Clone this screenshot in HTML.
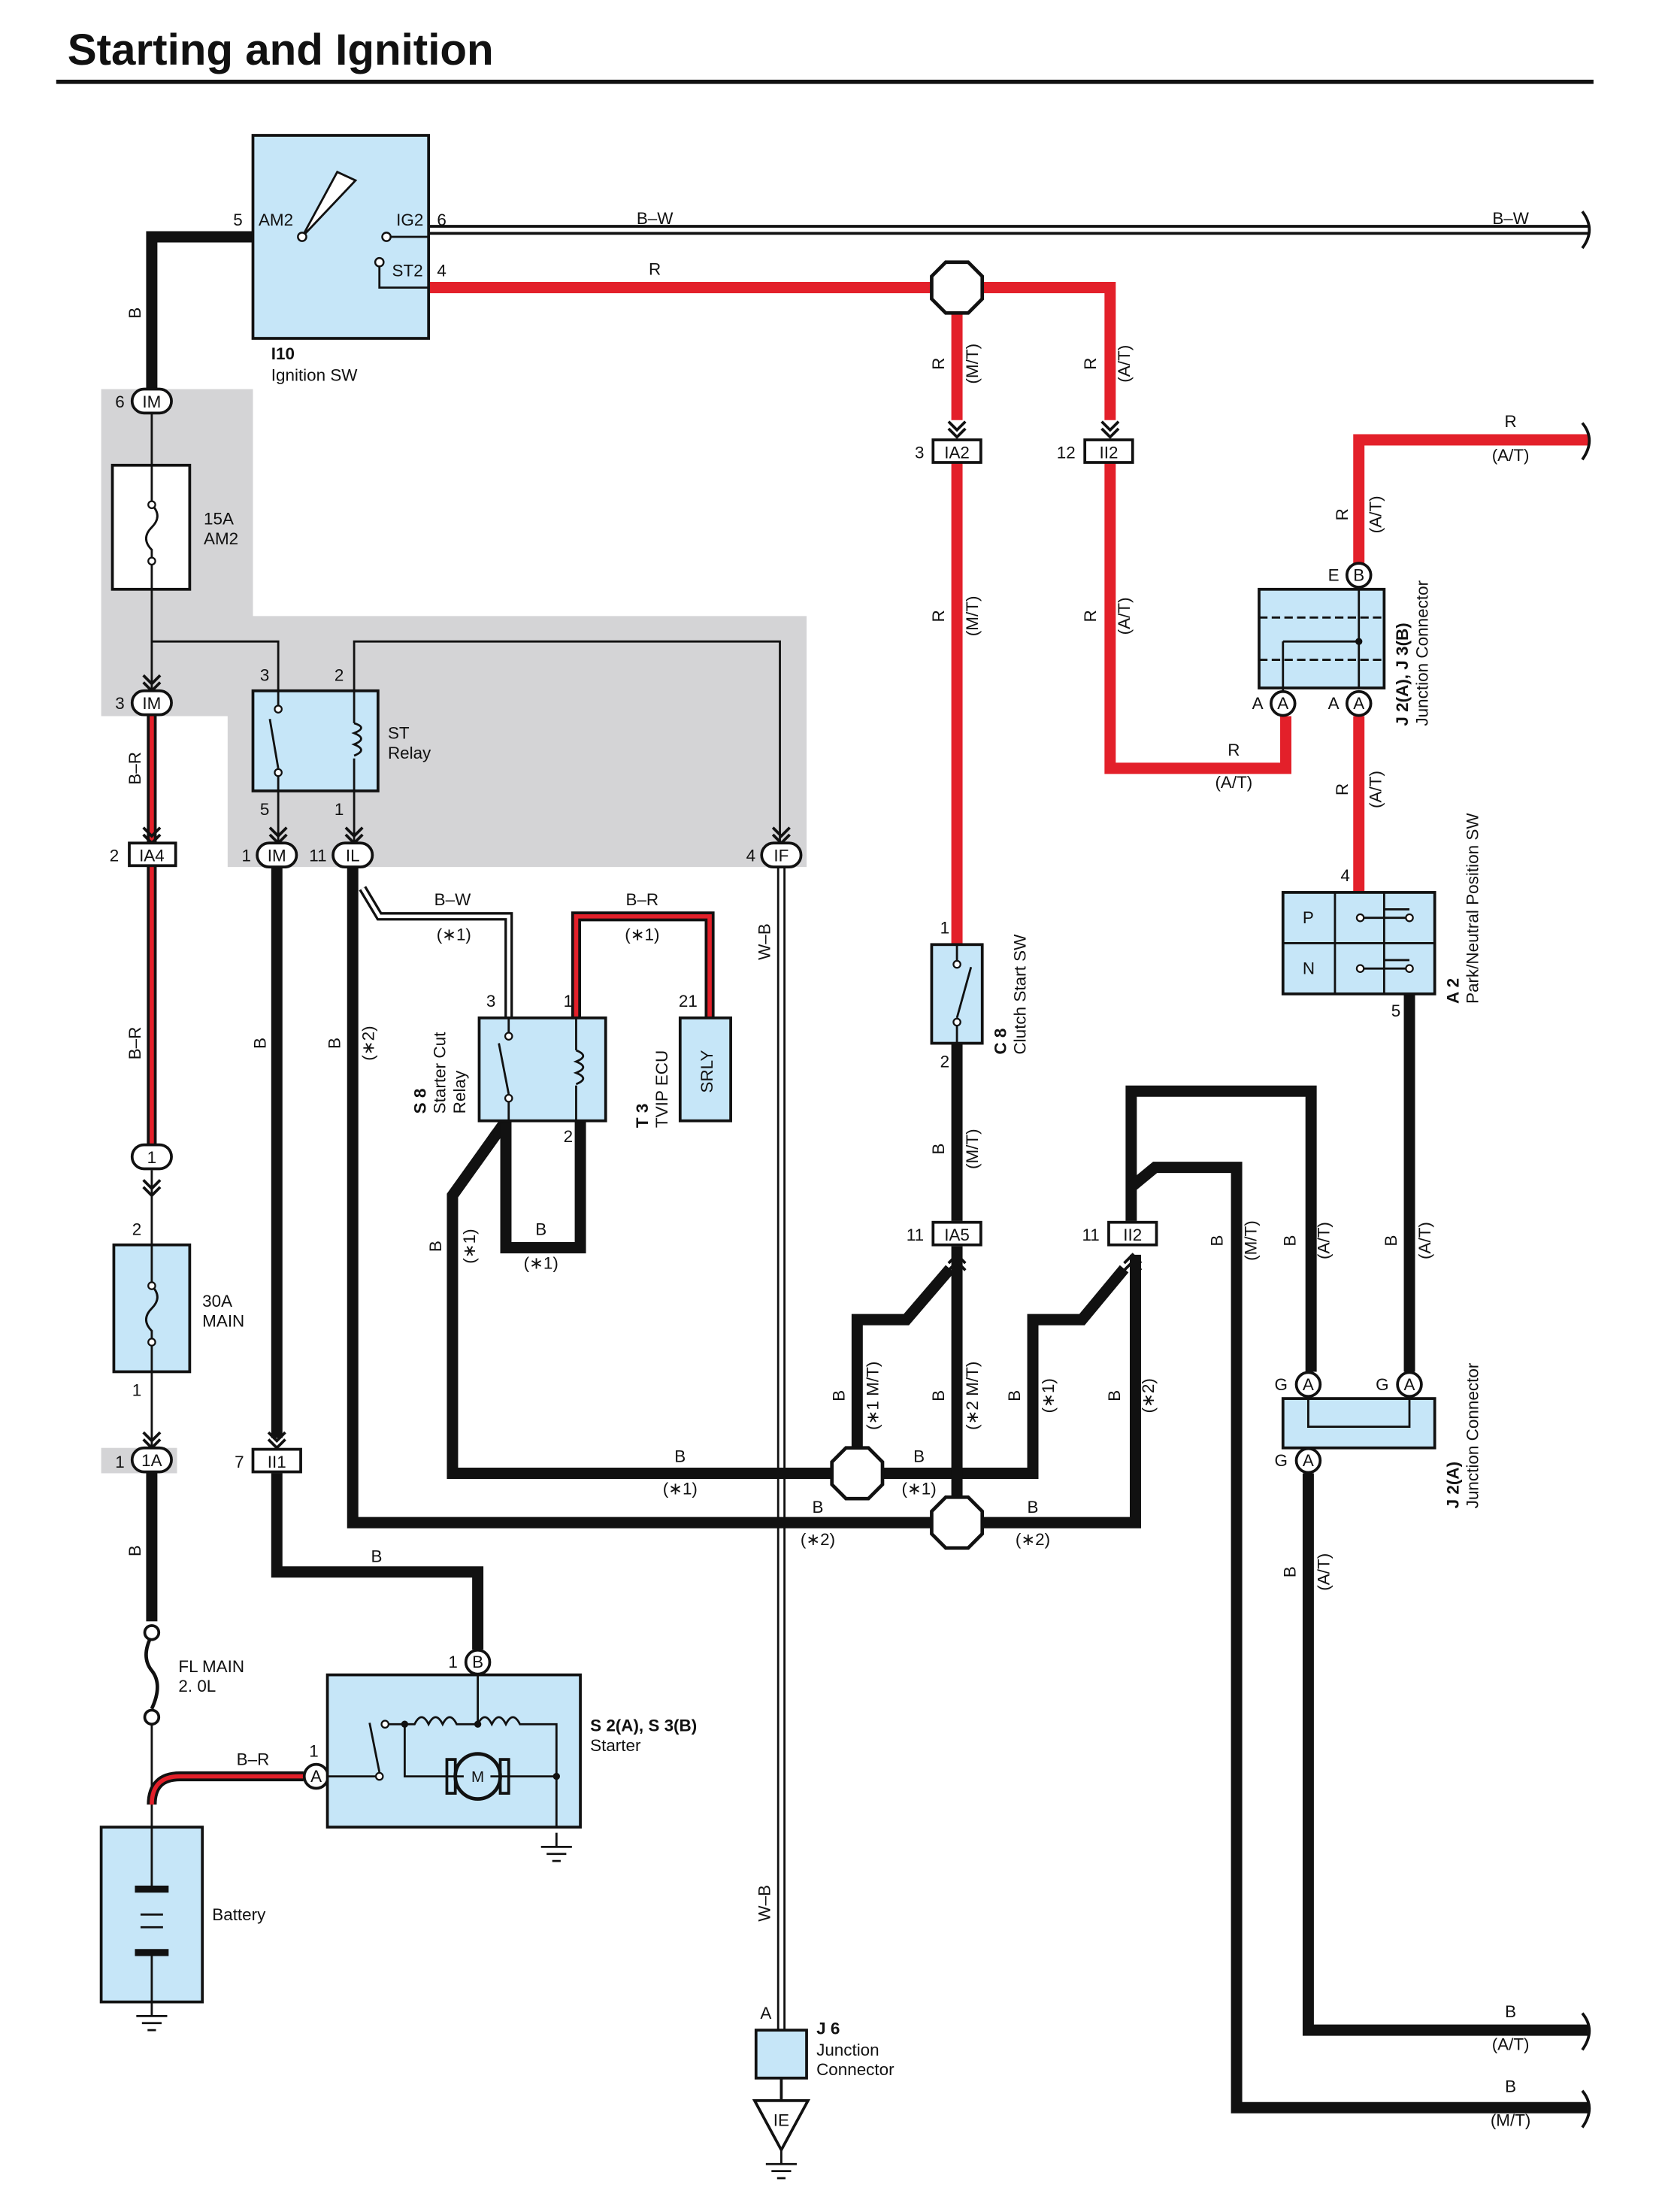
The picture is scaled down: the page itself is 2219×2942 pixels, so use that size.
<!DOCTYPE html>
<html><head><meta charset="utf-8"><style>
html,body{margin:0;padding:0;background:#fff}
svg{display:block}
text{font-family:"Liberation Sans",sans-serif;font-size:12px;fill:#111}
.b{font-weight:bold}
</style></head><body>
<svg width="2219" height="2942" viewBox="0 0 1187 1569" preserveAspectRatio="none" xmlns="http://www.w3.org/2000/svg">
<defs>
<g id="chev"><path d="M-6,-6 L0,0 L6,-6 M-6,-11 L0,-5 L6,-11" fill="none" stroke="#111" stroke-width="2"/></g>
<g id="gnd"><path d="M0,0 V10 M-11,10 H11 M-7,15 H7 M-3,20 H3" stroke="#111" stroke-width="1.5" fill="none"/></g>
</defs>
<rect width="1187" height="1569" fill="#fff"/>
<text x="48" y="46" class="b" style="font-size:31.2px">Starting and Ignition</text>
<line x1="40" y1="58" x2="1134" y2="58" stroke="#111" stroke-width="3"/>

<path d="M72,276 H180 V437 H574 V615 H162 V508 H72 Z" fill="#d4d4d6"/>
<rect x="72" y="1027" width="54" height="18" fill="#d4d4d6"/>

<g stroke="#111" stroke-width="1.5" fill="none">
<path d="M108,293 V330 M108,418 V490 M108,455 H198 V497 M252,490 V455 H555 V598"/>
<path d="M198,561 V598 M252,561 V598"/>
<path d="M108,830 V883 M108,973 V1027"/>
<path d="M108,1222 V1296"/>
</g>
<g fill="none">
<path d="M305,163 H1130" stroke="#111" stroke-width="7"/>
<path d="M305,163 H1130" stroke="#fff" stroke-width="3"/>
<path d="M258,630 L270,650 H362 V722" stroke="#111" stroke-width="6"/>
<path d="M258,630 L270,650 H362 V722" stroke="#fff" stroke-width="2.5"/>
<path d="M556,615 V1440" stroke="#111" stroke-width="6"/>
<path d="M556,615 V1440" stroke="#fff" stroke-width="3"/>
</g>
<g fill="none">
<path d="M108,508 V598 M108,614 V812 M108,1280 Q108,1260 128,1260 H216 M410,722 V650 H505 V722" stroke="#111" stroke-width="7"/>
<path d="M108,508 V598 M108,614 V812 M108,1280 Q108,1260 128,1260 H216 M410,722 V650 H505 V722" stroke="#e3202a" stroke-width="3"/>
</g>
<g stroke="#e3202a" stroke-width="8" fill="none">
<path d="M305,204 H790 V298"/>
<path d="M681,220 V298 M681,328 V670"/>
<path d="M790,328 V545 H915 V508"/>
<path d="M1130,312 H967 V400 M967,508 V633"/>
</g>
<g stroke="#111" stroke-width="8" fill="none" stroke-linejoin="miter">
<path d="M180,168 H108 V276"/>
<path d="M108,1045 V1150"/>
<path d="M197,615 V1020 M197,1045 V1115 H340 V1170"/>
<path d="M251,615 V1080 H808 V890"/>
<path d="M360,795 L322,848 V1045 H735 V936 H770 L800,900"/>
<path d="M610,1045 V936 H645 L676,900"/>
<path d="M360,795 V885 H413 V795"/>
<path d="M681,740 V866 M681,884 V1080"/>
<path d="M805,866 V774 H933 V973"/>
<path d="M805,842 L822,828 H880 V1495 H1130"/>
<path d="M1003,705 V973 M931,1045 V1440 H1130"/>
</g>
<g stroke="#111" stroke-width="2" fill="none">
<path d="M1126,150 Q1136,163 1126,176 M1126,300 Q1136,312 1126,326 M1126,1428 Q1136,1440 1126,1454 M1126,1483 Q1136,1495 1126,1509"/>
</g>
<use href="#chev" x="108" y="490"/><use href="#chev" x="108" y="598"/><use href="#chev" x="198" y="598"/><use href="#chev" x="252" y="598"/><use href="#chev" x="556" y="598"/>
<use href="#chev" x="681" y="310"/><use href="#chev" x="790" y="310"/><use href="#chev" x="108" y="848"/><use href="#chev" x="108" y="1027"/><use href="#chev" x="197" y="1027"/>
<g transform="translate(681,890) rotate(180)"><use href="#chev"/></g>
<g transform="translate(806,890) rotate(180)"><use href="#chev"/></g>

<g fill="#fff" stroke="#111" stroke-width="2.5">
<polygon points="673,186 689,186 699,196 699,212 689,222 673,222 663,212 663,196"/>
<polygon points="602,1027 618,1027 628,1037 628,1053 618,1063 602,1063 592,1053 592,1037"/>
<polygon points="673,1062 689,1062 699,1072 699,1088 689,1098 673,1098 663,1088 663,1072"/>
</g>

<rect x="180" y="96" width="125" height="144" fill="#c6e6f8" stroke="#111" stroke-width="2"/>
<path d="M215,168 L240,122 L253,128 Z" fill="#fff" stroke="#111" stroke-width="1.5"/>
<path d="M275,168 H305 M270,186 V204 H305" stroke="#111" stroke-width="1.5" fill="none"/>
<g fill="#fff" stroke="#111" stroke-width="1.3"><circle cx="215" cy="168" r="3"/><circle cx="275" cy="168" r="3"/><circle cx="270" cy="186" r="3"/></g>
<text x="184" y="160">AM2</text><text x="282" y="160">IG2</text><text x="279" y="196">ST2</text>
<text x="166" y="160">5</text><text x="311" y="160">6</text><text x="311" y="196">4</text>
<text x="193" y="255" class="b">I10</text><text x="193" y="270">Ignition SW</text>

<g fill="#fff" stroke="#111" stroke-width="2">
<rect x="94" y="276" width="28" height="17" rx="8.5"/>
<rect x="94" y="490" width="28" height="17" rx="8.5"/>
<rect x="183" y="598" width="28" height="17" rx="8.5"/>
<rect x="237" y="598" width="28" height="17" rx="8.5"/>
<rect x="542" y="598" width="28" height="17" rx="8.5"/>
<rect x="94" y="812" width="28" height="17" rx="8.5"/>
<rect x="94" y="1027" width="28" height="17" rx="8.5"/>
<rect x="92" y="598" width="33" height="16"/>
<rect x="664" y="312" width="34" height="16"/>
<rect x="772" y="312" width="34" height="16"/>
<rect x="180" y="1028" width="34" height="16"/>
<rect x="664" y="867" width="34" height="16"/>
<rect x="789" y="867" width="34" height="16"/>
</g>
<g text-anchor="middle">
<text x="108" y="289">IM</text><text x="108" y="503">IM</text><text x="197" y="611">IM</text><text x="251" y="611">IL</text><text x="556" y="611">IF</text>
<text x="108" y="825">1</text><text x="108" y="1040">1A</text><text x="108" y="611">IA4</text><text x="681" y="325">IA2</text><text x="789" y="325">II2</text>
<text x="197" y="1041">II1</text><text x="681" y="880">IA5</text><text x="806" y="880">II2</text>
</g>
<text x="82" y="289">6</text><text x="82" y="503">3</text><text x="78" y="611">2</text><text x="172" y="611">1</text><text x="220" y="611">11</text><text x="531" y="611">4</text>
<text x="651" y="325">3</text><text x="752" y="325">12</text><text x="94" y="876">2</text><text x="94" y="990">1</text><text x="82" y="1041">1</text><text x="167" y="1041">7</text>
<text x="645" y="880">11</text><text x="770" y="880">11</text>

<rect x="80" y="330" width="55" height="88" fill="#fff" stroke="#111" stroke-width="2"/>
<rect x="81" y="883" width="54" height="90" fill="#c6e6f8" stroke="#111" stroke-width="2"/>
<g stroke="#111" stroke-width="1.5" fill="none">
<path d="M108,330 V358 Q116,366 108,374 Q100,382 108,390 V418"/>
<path d="M108,883 V912 Q116,920 108,928 Q100,936 108,944 V973"/>
</g>
<g fill="#fff" stroke="#111" stroke-width="1.2"><circle cx="108" cy="358" r="2.5"/><circle cx="108" cy="398" r="2.5"/><circle cx="108" cy="912" r="2.5"/><circle cx="108" cy="952" r="2.5"/></g>
<text x="145" y="372">15A</text><text x="145" y="386">AM2</text>
<text x="144" y="927">30A</text><text x="144" y="941">MAIN</text>

<path d="M108,1160 Q100,1175 108,1185 Q116,1195 108,1212" stroke="#111" stroke-width="2.5" fill="none"/>
<g fill="#fff" stroke="#111" stroke-width="2"><circle cx="108" cy="1158" r="5"/><circle cx="108" cy="1218" r="5"/></g>
<text x="127" y="1186">FL MAIN</text><text x="127" y="1200">2. 0L</text>

<rect x="72" y="1296" width="72" height="124" fill="#c6e6f8" stroke="#111" stroke-width="2"/>
<g stroke="#111"><path d="M108,1296 V1340 M108,1386 V1420" stroke-width="1.5"/>
<path d="M96,1340 H120 M96,1385 H120" stroke-width="5"/><path d="M100,1358 H116 M100,1367 H116" stroke-width="1.5"/></g>
<text x="151" y="1362">Battery</text>
<use href="#gnd" x="108" y="1420"/>

<rect x="180" y="490" width="89" height="71" fill="#c6e6f8" stroke="#111" stroke-width="2"/>
<g stroke="#111" stroke-width="1.5" fill="none">
<path d="M198,490 V502 M198,548 V561 M192,510 L198,545 M252,490 V513 M252,538 V561"/>
<path d="M252,513 Q262,516 252,520 Q262,524 252,528 Q262,532 252,536"/>
</g>
<g fill="#fff" stroke="#111" stroke-width="1.2"><circle cx="198" cy="503" r="2.5"/><circle cx="198" cy="548" r="2.5"/></g>
<text x="185" y="483">3</text><text x="238" y="483">2</text><text x="185" y="578">5</text><text x="238" y="578">1</text>
<text x="276" y="524">ST</text><text x="276" y="538">Relay</text>

<rect x="341" y="722" width="90" height="73" fill="#c6e6f8" stroke="#111" stroke-width="2"/>
<g stroke="#111" stroke-width="1.5" fill="none">
<path d="M362,722 V733 M362,780 V795 M355,740 L362,776 M410,722 V745 M410,770 V795"/>
<path d="M410,745 Q420,749 410,753 Q420,757 410,761 Q420,765 410,769"/>
</g>
<g fill="#fff" stroke="#111" stroke-width="1.2"><circle cx="362" cy="735" r="2.5"/><circle cx="362" cy="779" r="2.5"/></g>
<text x="346" y="714">3</text><text x="401" y="714">1</text><text x="346" y="810">4</text><text x="401" y="810">2</text>
<g transform="translate(303,790) rotate(-90)"><text class="b">S 8</text><text y="14">Starter Cut</text><text y="28">Relay</text></g>

<rect x="484" y="722" width="36" height="73" fill="#c6e6f8" stroke="#111" stroke-width="2"/>
<text transform="translate(507,760) rotate(-90)" text-anchor="middle">SRLY</text>
<text x="483" y="714">21</text>
<g transform="translate(461,800) rotate(-90)"><text class="b">T 3</text><text y="14">TVIP ECU</text></g>

<rect x="663" y="670" width="36" height="70" fill="#c6e6f8" stroke="#111" stroke-width="2"/>
<g stroke="#111" stroke-width="1.5"><path d="M681,670 V682 M681,727 V740 M691,686 L681,722"/></g>
<g fill="#fff" stroke="#111" stroke-width="1.2"><circle cx="681" cy="684" r="2.5"/><circle cx="681" cy="725" r="2.5"/></g>
<text x="669" y="662">1</text><text x="669" y="757">2</text>
<g transform="translate(716,748) rotate(-90)"><text class="b">C 8</text><text y="14">Clutch Start SW</text></g>

<rect x="896" y="418" width="89" height="70" fill="#c6e6f8" stroke="#111" stroke-width="2"/>
<g stroke="#111" stroke-width="1.5" fill="none">
<path d="M896,438 H985 M896,468 H985" stroke-dasharray="6,3"/>
<path d="M967,418 V488 M913,455 H967 M913,455 V490"/>
</g>
<circle cx="967" cy="455" r="2.5" fill="#111"/>
<g transform="translate(1002,515) rotate(-90)"><text class="b">J 2(A), J 3(B)</text><text y="14">Junction Connector</text></g>

<rect x="913" y="633" width="108" height="72" fill="#c6e6f8" stroke="#111" stroke-width="2"/>
<g stroke="#111" stroke-width="1.5" fill="none">
<path d="M913,669 H1021 M950,633 V705 M985,633 V705"/>
<path d="M970,651 H1003 M970,687 H1003 M985,645 H1003 M985,681 H1003"/>
</g>
<g fill="#fff" stroke="#111" stroke-width="1.2"><circle cx="968" cy="651" r="2.5"/><circle cx="1003" cy="651" r="2.5"/><circle cx="968" cy="687" r="2.5"/><circle cx="1003" cy="687" r="2.5"/></g>
<text x="927" y="655">P</text><text x="927" y="691">N</text>
<text x="954" y="625">4</text><text x="990" y="721">5</text>
<g transform="translate(1038,712) rotate(-90)"><text class="b">A 2</text><text y="14">Park/Neutral Position SW</text></g>

<rect x="913" y="992" width="108" height="35" fill="#c6e6f8" stroke="#111" stroke-width="2"/>
<path d="M931,992 V1012 H1003 V992" stroke="#111" stroke-width="1.5" fill="none"/>
<g transform="translate(1038,1070) rotate(-90)"><text class="b">J 2(A)</text><text y="14">Junction Connector</text></g>

<g fill="#fff" stroke="#111" stroke-width="2">
<circle cx="967" cy="408" r="8.5"/><circle cx="913" cy="499" r="8.5"/><circle cx="967" cy="499" r="8.5"/>
<circle cx="931" cy="982" r="8.5"/><circle cx="1003" cy="982" r="8.5"/><circle cx="931" cy="1036" r="8.5"/>
<circle cx="340" cy="1179" r="8.5"/><circle cx="225" cy="1260" r="8.5"/>
</g>
<g text-anchor="middle">
<text x="967" y="412">B</text><text x="913" y="503">A</text><text x="967" y="503">A</text>
<text x="931" y="986">A</text><text x="1003" y="986">A</text><text x="931" y="1040">A</text>
<text x="340" y="1183">B</text><text x="225" y="1264">A</text>
</g>
<text x="945" y="412">E</text><text x="891" y="503">A</text><text x="945" y="503">A</text>
<text x="907" y="986">G</text><text x="979" y="986">G</text><text x="907" y="1040">G</text>
<text x="319" y="1183">1</text><text x="220" y="1246">1</text>

<rect x="233" y="1188" width="180" height="108" fill="#c6e6f8" stroke="#111" stroke-width="2"/>
<g stroke="#111" stroke-width="1.5" fill="none">
<path d="M233,1260 H270 M263,1222 L270,1257 M275,1223 H288 V1260 H330 M349,1260 H396 V1296 M340,1188 V1223"/>
<path d="M288,1223 H295 Q300,1213 305,1223 Q310,1213 315,1223 Q320,1213 325,1223 H340"/>
<path d="M340,1223 Q345,1213 350,1223 Q355,1213 360,1223 Q365,1213 370,1223 H378 V1223 H396 V1260"/>
<circle cx="340" cy="1260" r="16" stroke-width="2.5"/>
<rect x="318" y="1248" width="6" height="24" stroke-width="2"/><rect x="356" y="1248" width="6" height="24" stroke-width="2"/>
</g>
<g fill="#fff" stroke="#111" stroke-width="1.2"><circle cx="270" cy="1260" r="2.5"/><circle cx="274" cy="1223" r="2.5"/></g>
<g fill="#111"><circle cx="288" cy="1223" r="2.5"/><circle cx="340" cy="1223" r="2.5"/><circle cx="396" cy="1260" r="2.5"/></g>
<text x="340" y="1264" text-anchor="middle" style="font-size:11px">M</text>
<text x="420" y="1228" class="b">S 2(A), S 3(B)</text><text x="420" y="1242">Starter</text>
<use href="#gnd" x="396" y="1300"/>

<rect x="538" y="1440" width="36" height="34" fill="#c6e6f8" stroke="#111" stroke-width="2"/>
<text x="541" y="1432">A</text>
<path d="M556,1474 V1490 M537,1490 H575 L556,1525 Z" stroke="#111" stroke-width="2" fill="#fff"/>
<text x="556" y="1508" text-anchor="middle">IE</text>
<use href="#gnd" x="556" y="1525"/>
<text x="581" y="1443" class="b">J 6</text><text x="581" y="1458">Junction</text><text x="581" y="1472">Connector</text>

<g text-anchor="middle">
<text x="466" y="159">B–W</text><text x="1075" y="159">B–W</text><text x="466" y="195">R</text>
<text x="1075" y="303">R</text><text x="1075" y="327">(A/T)</text>
<text x="878" y="536">R</text><text x="878" y="559">(A/T)</text>
<text x="322" y="642">B–W</text><text x="323" y="667">(∗1)</text>
<text x="457" y="642">B–R</text><text x="457" y="667">(∗1)</text>
<text x="385" y="876">B</text><text x="385" y="900">(∗1)</text>
<text x="484" y="1037">B</text><text x="484" y="1060">(∗1)</text>
<text x="654" y="1037">B</text><text x="654" y="1060">(∗1)</text>
<text x="582" y="1073">B</text><text x="582" y="1096">(∗2)</text>
<text x="735" y="1073">B</text><text x="735" y="1096">(∗2)</text>
<text x="268" y="1108">B</text><text x="180" y="1252">B–R</text>
<text x="1075" y="1431">B</text><text x="1075" y="1454">(A/T)</text>
<text x="1075" y="1484">B</text><text x="1075" y="1508">(M/T)</text>
</g>
<g text-anchor="middle">
<text transform="translate(100,222) rotate(-90)">B</text>
<text transform="translate(100,545) rotate(-90)">B–R</text>
<text transform="translate(100,740) rotate(-90)">B–R</text>
<text transform="translate(100,1100) rotate(-90)">B</text>
<text transform="translate(189,740) rotate(-90)">B</text>
<text transform="translate(242,740) rotate(-90)">B</text><text transform="translate(266,740) rotate(-90)">(∗2)</text>
<text transform="translate(314,884) rotate(-90)">B</text><text transform="translate(338,884) rotate(-90)">(∗1)</text>
<text transform="translate(548,668) rotate(-90)">W–B</text><text transform="translate(548,1350) rotate(-90)">W–B</text>
<text transform="translate(672,258) rotate(-90)">R</text><text transform="translate(696,258) rotate(-90)">(M/T)</text>
<text transform="translate(780,258) rotate(-90)">R</text><text transform="translate(804,258) rotate(-90)">(A/T)</text>
<text transform="translate(672,437) rotate(-90)">R</text><text transform="translate(696,437) rotate(-90)">(M/T)</text>
<text transform="translate(780,437) rotate(-90)">R</text><text transform="translate(804,437) rotate(-90)">(A/T)</text>
<text transform="translate(959,365) rotate(-90)">R</text><text transform="translate(983,365) rotate(-90)">(A/T)</text>
<text transform="translate(959,560) rotate(-90)">R</text><text transform="translate(983,560) rotate(-90)">(A/T)</text>
<text transform="translate(672,815) rotate(-90)">B</text><text transform="translate(696,815) rotate(-90)">(M/T)</text>
<text transform="translate(601,990) rotate(-90)">B</text><text transform="translate(625,990) rotate(-90)">(∗1 M/T)</text>
<text transform="translate(672,990) rotate(-90)">B</text><text transform="translate(696,990) rotate(-90)">(∗2 M/T)</text>
<text transform="translate(726,990) rotate(-90)">B</text><text transform="translate(750,990) rotate(-90)">(∗1)</text>
<text transform="translate(797,990) rotate(-90)">B</text><text transform="translate(821,990) rotate(-90)">(∗2)</text>
<text transform="translate(870,880) rotate(-90)">B</text><text transform="translate(894,880) rotate(-90)">(M/T)</text>
<text transform="translate(922,880) rotate(-90)">B</text><text transform="translate(946,880) rotate(-90)">(A/T)</text>
<text transform="translate(994,880) rotate(-90)">B</text><text transform="translate(1018,880) rotate(-90)">(A/T)</text>
<text transform="translate(922,1115) rotate(-90)">B</text><text transform="translate(946,1115) rotate(-90)">(A/T)</text>
</g>
</svg>
</body></html>
